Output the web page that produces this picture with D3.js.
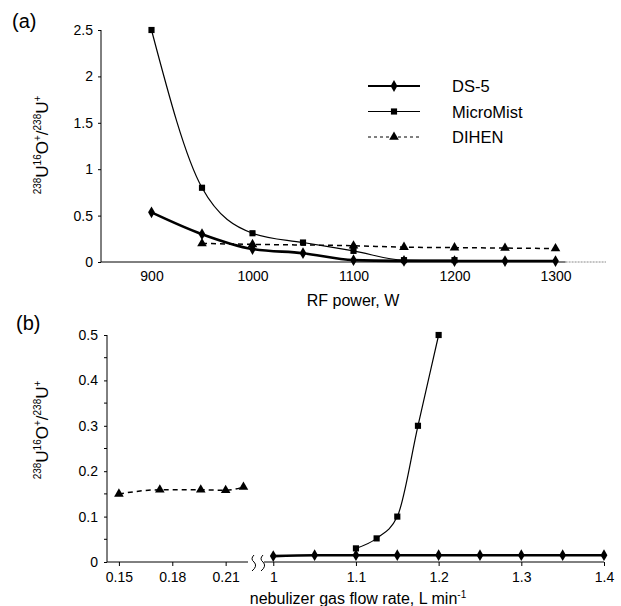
<!DOCTYPE html>
<html>
<head>
<meta charset="utf-8">
<script src="https://cdn.jsdelivr.net/npm/d3@7"></script>
<style>
  body { margin: 0; background: #fff; }
  svg { font-family: "Liberation Sans", Arial, sans-serif; }
</style>
</head>
<body>
<svg id="chart" width="621" height="606"></svg>
<script>
// ---- panel (a): RF power ----
const powerTicks = [900, 1000, 1100, 1200, 1300];
const powerYTicks = [0, 0.5, 1, 1.5, 2, 2.5];
const ds5Power = [[900, 0.535], [950, 0.30], [1000, 0.14], [1050, 0.095], [1100, 0.02], [1150, 0.012], [1200, 0.01], [1250, 0.01], [1300, 0.01]];
const microPower = [[900, 2.5], [950, 0.80], [1000, 0.31], [1050, 0.21], [1100, 0.12], [1150, 0.02], [1200, 0.02]];
const dihenPower = [[950, 0.20], [1000, 0.19], [1100, 0.175], [1150, 0.16], [1200, 0.155], [1250, 0.15], [1300, 0.145]];

// ---- panel (b): nebulizer gas flow ----
const flowTicksLow = [0.15, 0.18, 0.21];
const flowTicksHigh = [1, 1.1, 1.2, 1.3, 1.4];
const flowYTicks = [0, 0.1, 0.2, 0.3, 0.4, 0.5];
const ds5Flow = [[1, 0.013], [1.05, 0.015], [1.1, 0.015], [1.15, 0.015], [1.2, 0.015], [1.25, 0.015], [1.3, 0.015], [1.35, 0.015], [1.4, 0.015]];
const microFlow = [[1.1, 0.03], [1.125, 0.052], [1.15, 0.10], [1.175, 0.30], [1.2, 0.50]];
const dihenFlow = [[0.15, 0.15], [0.173, 0.159], [0.196, 0.159], [0.21, 0.158], [0.22, 0.165]];

const legendNames = ["DS-5", "MicroMist", "DIHEN"];

const svg = d3.select("#chart");

const styles = {
  ds5:   {width: 2.6, dash: null, marker: d3.symbolDiamond, size: 40},
  micro: {width: 1.2, dash: null, marker: d3.symbolSquare, size: 38},
  dihen: {width: 1.5, dash: "5,4", marker: d3.symbolTriangle, size: 40}
};

function drawSeries(g, data, x, y, st) {
  const line = d3.line()
    .x(d => x(d[0]))
    .y(d => y(d[1]))
    .curve(d3.curveMonotoneX);
  g.append("path")
    .attr("d", line(data))
    .attr("fill", "none")
    .attr("stroke", "#000")
    .attr("stroke-width", st.width)
    .attr("stroke-dasharray", st.dash);
  g.selectAll(null)
    .data(data)
    .enter()
    .append("path")
    .attr("d", d3.symbol().type(st.marker).size(st.size))
    .attr("transform", d => "translate(" + x(d[0]) + "," + y(d[1]) + ")")
    .attr("fill", "#000");
}

function yTitle(cx, cy) {
  const t = svg.append("text")
    .attr("transform", "translate(" + cx + "," + cy + ") rotate(-90)")
    .attr("text-anchor", "middle")
    .style("font-size", "17px");
  const parts = [["238", true], ["U", false], ["16", true], ["O", false], ["+", true], ["/", false], ["238", true], ["U", false], ["+", true]];
  let sup = false;
  parts.forEach(p => {
    const s = t.append("tspan").text(p[0]);
    if (p[1]) {
      s.style("font-size", "10px");
      if (!sup) s.attr("dy", -7);
      sup = true;
    } else {
      s.style("font-size", "17px");
      if (sup) s.attr("dy", 7);
      sup = false;
    }
  });
}

// ================= panel (a) =================
const xa = d3.scaleLinear().domain([850, 1350]).range([101, 606]);
const ya = d3.scaleLinear().domain([0, 2.5]).range([262, 30]);

const ga = svg.append("g");

ga.append("g")
  .attr("transform", "translate(101,0)")
  .call(d3.axisLeft(ya).tickValues(powerYTicks).tickSize(3).tickPadding(5).tickFormat(d3.format("")))
  .call(g => g.select(".domain").attr("d", "M0," + ya(2.5) + "V" + ya(0)))
  .style("font-size", "14px")
  .style("font-family", "Liberation Sans, Arial, sans-serif");

const axa = ga.append("g")
  .attr("transform", "translate(0,262)")
  .call(d3.axisBottom(xa).tickValues(powerTicks).tickSize(0).tickPadding(9).tickFormat(d3.format("")))
  .style("font-size", "14px")
  .style("font-family", "Liberation Sans, Arial, sans-serif");
axa.select(".domain").attr("d", "M" + xa(850) + ",0H" + xa(1310));
axa.append("line")
  .attr("x1", xa(1310)).attr("x2", xa(1350))
  .attr("stroke", "#888").attr("stroke-dasharray", "2,1");

drawSeries(ga, dihenPower, xa, ya, styles.dihen);
drawSeries(ga, microPower, xa, ya, styles.micro);
drawSeries(ga, ds5Power, xa, ya, styles.ds5);

// legend
const legendStyles = [styles.ds5, styles.micro, styles.dihen];
legendNames.forEach((name, i) => {
  const ly = 86 + i * 25.5;
  svg.append("line")
    .attr("x1", 368).attr("x2", 420).attr("y1", ly).attr("y2", ly)
    .attr("stroke", "#000")
    .attr("stroke-width", i === 0 ? 2 : (i === 1 ? 1.2 : 1))
    .attr("stroke-dasharray", legendStyles[i].dash ? "3,3" : null);
  svg.append("path")
    .attr("d", d3.symbol().type(legendStyles[i].marker).size(legendStyles[i].size)())
    .attr("transform", "translate(394," + ly + ")");
  svg.append("text")
    .attr("x", 452).attr("y", ly + 6)
    .style("font-size", "16.5px")
    .text(name);
});

svg.append("text").attr("x", 12).attr("y", 28).style("font-size", "20px").text("(a)");
yTitle(48, 145);
svg.append("text").attr("x", 353).attr("y", 306).attr("text-anchor", "middle")
  .style("font-size", "16px").text("RF power, W");

// ================= panel (b) =================
const yb = d3.scaleLinear().domain([0, 0.5]).range([562, 335]);
const xbLow = d3.scaleLinear().domain([0.1433, 0.2220]).range([107, 247]);
const xbHigh = d3.scaleLinear().domain([0.99, 1.4]).range([265, 604]);

const gb = svg.append("g");

gb.append("g")
  .attr("transform", "translate(107,0)")
  .call(d3.axisLeft(yb).tickValues(flowYTicks).tickSize(3).tickPadding(6).tickFormat(d => d === 0 ? "0" : d3.format(".1f")(d)))
  .call(g => g.select(".domain").attr("d", "M0," + yb(0.5) + "V" + yb(0)))
  .style("font-size", "14px")
  .style("font-family", "Liberation Sans, Arial, sans-serif");
// minor ticks every 0.05
gb.selectAll(null)
  .data(d3.range(0.05, 0.5, 0.1))
  .enter()
  .append("line")
  .attr("x1", 104).attr("x2", 107)
  .attr("y1", d => yb(d)).attr("y2", d => yb(d))
  .attr("stroke", "#000");

gb.append("g")
  .attr("transform", "translate(0,562)")
  .call(d3.axisBottom(xbLow).tickValues(flowTicksLow).tickSize(4).tickPadding(6).tickFormat(d3.format(".2f")))
  .call(g => g.select(".domain").attr("d", "M107,0H248"))
  .style("font-size", "14px")
  .style("font-family", "Liberation Sans, Arial, sans-serif");

gb.append("g")
  .attr("transform", "translate(0,562)")
  .call(d3.axisBottom(xbHigh).tickValues(flowTicksHigh).tickSize(4).tickPadding(6).tickFormat(d => d === 1 ? "1" : d3.format(".1f")(d)))
  .call(g => g.select(".domain").attr("d", "M264,0H604"))
  .style("font-size", "14px")
  .style("font-family", "Liberation Sans, Arial, sans-serif");

// axis break marks
[252, 261].forEach(bx => {
  gb.append("path")
    .attr("d", "M" + (bx + 2) + ",555 q-4,4 0,7 q4,4 -2,9")
    .attr("fill", "none")
    .attr("stroke", "#000")
    .attr("stroke-width", 1);
});

drawSeries(gb, dihenFlow, xbLow, yb, styles.dihen);
drawSeries(gb, ds5Flow, xbHigh, yb, styles.ds5);
drawSeries(gb, microFlow, xbHigh, yb, styles.micro);

svg.append("text").attr("x", 16).attr("y", 330).style("font-size", "20px").text("(b)");
yTitle(48, 430);
const xt = svg.append("text").attr("x", 358).attr("y", 604).attr("text-anchor", "middle")
  .style("font-size", "16px").text("nebulizer gas flow rate, L min");
xt.append("tspan").attr("dy", -6).style("font-size", "10px").text("-1");
</script>
</body>
</html>
